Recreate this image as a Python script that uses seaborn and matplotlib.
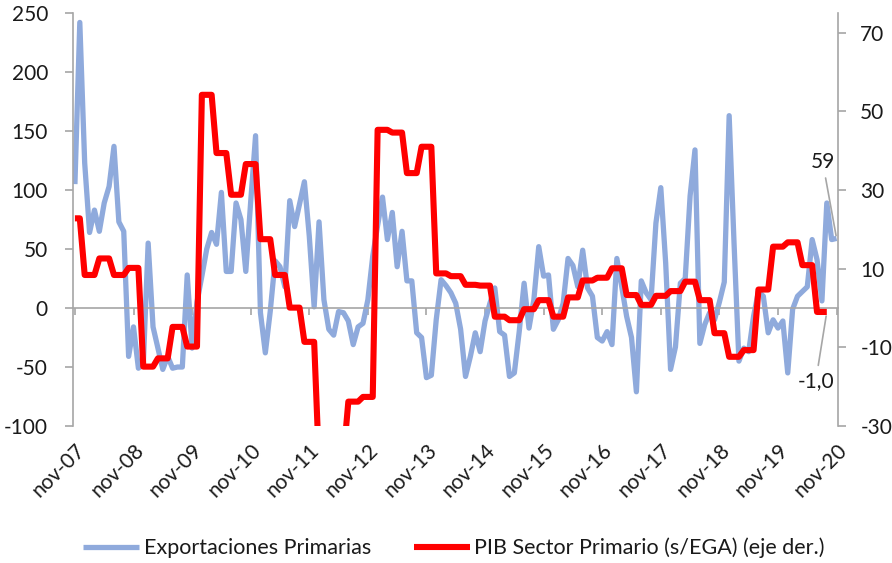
import numpy as np
import matplotlib
matplotlib.use("Agg")
import matplotlib.pyplot as plt
import seaborn as sns

# Etiquetas del eje x (una por año, en noviembre)
etiquetas = ['nov-07', 'nov-08', 'nov-09', 'nov-10', 'nov-11', 'nov-12', 'nov-13',
             'nov-14', 'nov-15', 'nov-16', 'nov-17', 'nov-18', 'nov-19', 'nov-20']

# Exportaciones primarias, mensual nov-07 .. nov-20
exportaciones = [105, 242, 123, 64, 83, 65, 89, 103, 137, 73,
                 65, -41, -16, -51, -48, 55, -16, -34, -52, -41,
                 -51, -50, -50, 28, -34, 5, 27, 50, 64, 54,
                 98, 31, 31, 89, 75, 31, 90, 146, -4, -38,
                 -3, 40, 35, 18, 91, 69, 88, 107, 61, 1,
                 73, 7, -18, -23, -3, -4, -11, -31, -16, -13,
                 7, 44, 70, 94, 58, 81, 35, 65, 23, 23,
                 -21, -25, -59, -57, -10, 24, 19, 13, 4, -18,
                 -58, -41, -21, -37, -11, 4, 17, -20, -23, -58,
                 -55, -20, 21, -17, 7, 52, 27, 28, -18, -10,
                 4, 42, 36, 18, 49, 17, 10, -25, -28, -20,
                 -31, 42, 18, -7, -25, -71, 23, 13, 7, 72,
                 102, 38, -52, -33, 21, 25, 95, 134, -30, -14,
                 -4, -10, 5, 22, 163, 55, -45, -34, -37, -7,
                 14, 10, -21, -10, -17, -11, -55, -1, 10, 14,
                 18, 58, 41, 6, 89, 58, 59]

# PIB sector primario (s/EGA), trimestral 4T-07 .. 3T-20
pib_trimestral = [22.8, 8.4, 12.6, 8.4, 10.2, -14.9, -12.8, -4.8, -9.8,
                  54.2, 39.4, 28.8, 36.6,
                  17.5, 8.4, 0.1, -8.6,
                  -40.0, -38.0, -23.8, -22.6,
                  45.3, 44.6, 34.3, 41.0,
                  8.8, 8.1, 5.9, 5.7,
                  -2.2, -3.1, -0.3, 2.0,
                  -2.2, 2.7, 7.0, 7.7,
                  10.1, 3.3, 0.8, 3.1,
                  4.3, 6.7, 2.0, -6.4,
                  -12.4, -10.7, 4.7, 15.6,
                  16.7, 10.9, -1.0]
meses_por_trimestre = [2] + [3] * (len(pib_trimestral) - 1)

meses = np.arange(len(exportaciones))
pib = np.repeat(pib_trimestral, meses_por_trimestre)
meses_pib = meses[:len(pib)]

sns.set_theme(style='white')
plt.rcParams['font.family'] = ['Lato', 'DejaVu Sans']
plt.rcParams['axes.unicode_minus'] = False

gris = '#A6A6A6'
azul = '#8FAADC'
rojo = '#FF0000'
texto = '#1A1A1A'
fs = 15

fig = plt.figure(figsize=(8.92, 5.63), dpi=100)
ax = fig.add_axes([0.0818, 0.2433, 0.8577, 0.7336])
ax2 = ax.twinx()

sns.lineplot(x=meses, y=exportaciones, ax=ax, color=azul, lw=3.8,
             label='Exportaciones Primarias', legend=False,
             solid_joinstyle='round', solid_capstyle='butt')
sns.lineplot(x=meses_pib, y=pib, ax=ax2, color=rojo, lw=4.4,
             label='PIB Sector Primario (s/EGA) (eje der.)', legend=False,
             solid_joinstyle='round', solid_capstyle='butt')

# ejes y
ax.set_ylim(-100, 250)
ax.set_yticks(range(-100, 251, 50))
ax2.set_ylim(-30, 75)
ax2.set_yticks(range(-30, 71, 20))
ax.set_xlim(-0.4, 156.3)
ax.set_ylabel('')
ax2.set_ylabel('')

for s in ['top', 'right']:
    ax.spines[s].set_visible(False)
for s in ['top', 'bottom', 'left']:
    ax2.spines[s].set_visible(False)
ax.spines['left'].set_color(gris)
ax2.spines['right'].set_color(gris)
ax.spines['bottom'].set_color(gris)
ax.spines['bottom'].set_position(('data', 0))
for sp in [ax.spines['left'], ax.spines['bottom'], ax2.spines['right']]:
    sp.set_linewidth(1.2)

ax.tick_params(axis='y', direction='out', length=6, width=1.2, color=gris,
               labelsize=fs, labelcolor=texto, pad=12, left=True)
ax2.tick_params(axis='y', direction='out', length=6, width=1.2, color=gris,
                labelsize=fs, labelcolor=texto, pad=10, right=True)

# marcas anuales sobre la línea de cero
ticks_x = meses[::12]
ax.set_xticks(ticks_x)
ax.tick_params(axis='x', direction='out', length=5, width=1.2, color=gris,
               labelbottom=False, bottom=True)

# etiquetas del eje x abajo
sec = ax.secondary_xaxis('bottom')
sec.set_xticks(ticks_x, labels=etiquetas)
sec.spines['bottom'].set_visible(False)
sec.tick_params(axis='x', length=0, pad=10, labelsize=fs, labelcolor=texto)
for lab in sec.get_xticklabels():
    lab.set_rotation(45)
    lab.set_ha('right')
    lab.set_rotation_mode('anchor')

# etiquetas de los últimos valores
ax.annotate(f"{exportaciones[-1]:.0f}", xy=(meses[-1], exportaciones[-1]),
            xytext=(-10, 55), textcoords='offset points', ha='center', va='center',
            fontsize=fs, color=texto,
            arrowprops=dict(arrowstyle='-', color=gris, lw=1.2, shrinkA=2, shrinkB=2))
ax2.annotate(f"{pib[-1]:.1f}".replace('.', ','), xy=(meses_pib[-1], pib[-1]),
             xytext=(-8, -50), textcoords='offset points', ha='center', va='center',
             fontsize=fs, color=texto,
             arrowprops=dict(arrowstyle='-', color=gris, lw=1.2, shrinkA=2, shrinkB=3))

handles = [ax.get_lines()[0], ax2.get_lines()[0]]
labels = ['Exportaciones Primarias', 'PIB Sector Primario (s/EGA) (eje der.)']
fig.legend(handles, labels, loc='center', bbox_to_anchor=(0.509, 0.027), ncol=2,
           frameon=False, fontsize=15.5, handlelength=2.6, handletextpad=0.2,
           columnspacing=2.0, labelcolor=texto)

fig.savefig('out.png', dpi=100)
